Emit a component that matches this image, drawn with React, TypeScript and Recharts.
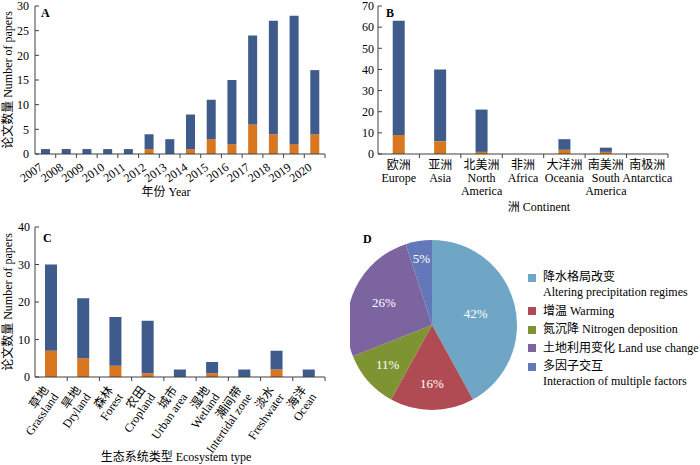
import React from 'react';
import { BarChart, Bar, XAxis, YAxis, PieChart, Pie, Cell } from 'recharts';

const FONT = '"Liberation Serif", "Noto Sans CJK SC", serif';
const BLUE = '#3e5b8c';
const ORANGE = '#d8771f';
const AXIS = '#404040';

// A: papers per year (orange part at the bottom, blue part stacked on top)
const years = ['2007', '2008', '2009', '2010', '2011', '2012', '2013', '2014', '2015', '2016', '2017', '2018', '2019', '2020'];
const yearOrange = [0, 0, 0, 0, 0, 1, 0, 1, 3, 2, 6, 4, 2, 4];
const yearBlue = [1, 1, 1, 1, 1, 3, 3, 7, 8, 13, 18, 23, 26, 13];
const yearTicks = [0, 5, 10, 15, 20, 25, 30];

// B: papers per continent
const continents = ['欧洲\nEurope', '亚洲\nAsia', '北美洲\nNorth\nAmerica', '非洲\nAfrica', '大洋洲\nOceania', '南美洲\nSouth\nAmerica', '南极洲\nAntarctica'];
const continentOrange = [9, 6, 1, 0, 2, 1, 0];
const continentBlue = [54, 34, 20, 0, 5, 2, 0];
const continentTicks = [0, 10, 20, 30, 40, 50, 60, 70];

// C: papers per ecosystem type
const ecosystems = ['草地\nGrassland', '旱地\nDryland', '森林\nForest', '农田\nCropland', '城市\nUrban area', '湿地\nWetland', '潮间带\nIntertidal zone', '淡水\nFreshwater', '海洋\nOcean'];
const ecoOrange = [7, 5, 3, 1, 0, 1, 0, 2, 0];
const ecoBlue = [23, 16, 13, 14, 2, 3, 2, 5, 2];
const ecoTicks = [0, 10, 20, 30, 40];

// D: share of driving factors (%)
const factors = ['降水格局改变\nAltering precipitation regimes', '增温 Warming', '氮沉降 Nitrogen deposition', '土地利用变化 Land use change', '多因子交互\nInteraction of multiple factors'];
const factorShare = [42, 16, 11, 26, 5];
const factorColors = ['#6fa6c6', '#b04b53', '#7e9432', '#7b64a0', '#6378b8'];

const dataA = years.map((name, i) => ({ name, orange: yearOrange[i], blue: yearBlue[i] }));
const dataB = continents.map((name, i) => ({ name, orange: continentOrange[i], blue: continentBlue[i] }));
const dataC = ecosystems.map((name, i) => ({ name, orange: ecoOrange[i], blue: ecoBlue[i] }));
const dataD = factors.map((name, i) => ({ name, value: factorShare[i] }));

const PLOT_W = 290;
const bandA = PLOT_W / years.length;
const bandB = PLOT_W / continents.length;
const bandC = PLOT_W / ecosystems.length;

const textStyle = { fontFamily: FONT, fill: '#000' };

const Boundary = ({ band }: { band: number }) => (
  <line x1={band / 2} x2={band / 2} y1={0} y2={4} stroke={AXIS} />
);

const YearTick = ({ x, y, payload }: any) => (
  <g transform={`translate(${x},${y})`}>
    <Boundary band={bandA} />
    <text transform="translate(-2,15) rotate(-35)" textAnchor="end" fontSize={12} style={textStyle}>
      {payload.value}
    </text>
  </g>
);

const ContinentTick = ({ x, y, payload }: any) => (
  <g transform={`translate(${x},${y})`}>
    <Boundary band={bandB} />
    <text textAnchor="middle" fontSize={12} style={textStyle}>
      {String(payload.value).split('\n').map((line, i) => (
        <tspan key={i} x={0} y={15 + i * 13}>{line}</tspan>
      ))}
    </text>
  </g>
);

const EcoTick = ({ x, y, payload }: any) => (
  <g transform={`translate(${x},${y})`}>
    <Boundary band={bandC} />
    <text transform="translate(-2,13) rotate(-55)" textAnchor="end" fontSize={12} style={textStyle}>
      {String(payload.value).split('\n').map((line, i) => (
        <tspan key={i} x={0} y={i * 12}>{line}</tspan>
      ))}
    </text>
  </g>
);

const YTitle = ({ viewBox }: any) => {
  const cy = viewBox.y + viewBox.height / 2;
  return (
    <text x={8} y={cy} transform={`rotate(-90, 8, ${cy})`} textAnchor="middle" dominantBaseline="central" fontSize={12} style={textStyle}>
      论文数量 Number of papers
    </text>
  );
};

const XTitle = ({ viewBox, text, dx }: any) => (
  <text x={viewBox.x + viewBox.width / 2 + dx} y={viewBox.y + viewBox.height - 4} textAnchor="middle" fontSize={12} style={textStyle}>
    {text}
  </text>
);

// label distance from pie centre, per slice (like Excel's best fit)
const LABEL_R = [45, 58, 59, 53, 67];
const RAD = Math.PI / 180;

const renderPieLabel = ({ cx, cy, midAngle, index, value }: any) => {
  const r = LABEL_R[index];
  const x = cx + r * Math.cos(-midAngle * RAD);
  const y = cy + r * Math.sin(-midAngle * RAD);
  return (
    <text x={x} y={y} textAnchor="middle" dominantBaseline="central" fontSize={13} fontFamily={FONT} fill="#fff">
      {value}%
    </text>
  );
};

const yAxisProps = {
  tickSize: -4,
  stroke: AXIS,
  interval: 0 as const,
  tick: { fill: '#000', fontSize: 12, fontFamily: FONT },
};

const xAxisProps = {
  dataKey: 'name',
  interval: 0 as const,
  tickLine: false,
  tickSize: 0,
  tickMargin: 0,
  stroke: AXIS,
};

export default function App() {
  return (
    <div style={{ position: 'absolute', left: 0, top: 0, width: 700, height: 465, background: '#fff', overflow: 'hidden' }}>
      <div style={{ position: 'absolute', left: 0, top: 0 }}>
        <BarChart width={350} height={200} data={dataA} margin={{ top: 6, right: 25, bottom: 0, left: 0 }} barCategoryGap="29%">
          <XAxis {...xAxisProps} height={46} tick={YearTick} label={<XTitle text="年份 Year" dx={-14} />} />
          <YAxis {...yAxisProps} width={35} tickMargin={10} domain={[0, 30]} ticks={yearTicks} label={<YTitle />} />
          <Bar dataKey="orange" stackId="s" fill={ORANGE} isAnimationActive={false} />
          <Bar dataKey="blue" stackId="s" fill={BLUE} isAnimationActive={false} />
        </BarChart>
      </div>

      <div style={{ position: 'absolute', left: 350, top: 0 }}>
        <BarChart width={350} height={215} data={dataB} margin={{ top: 6, right: 32, bottom: 0, left: 0 }} barCategoryGap="35.5%">
          <XAxis {...xAxisProps} height={61} tick={ContinentTick} label={<XTitle text="洲 Continent" dx={16} />} />
          <YAxis {...yAxisProps} width={28} tickMargin={8} domain={[0, 70]} ticks={continentTicks} />
          <Bar dataKey="orange" stackId="s" fill={ORANGE} isAnimationActive={false} />
          <Bar dataKey="blue" stackId="s" fill={BLUE} isAnimationActive={false} />
        </BarChart>
      </div>

      <div style={{ position: 'absolute', left: 0, top: 220 }}>
        <BarChart width={350} height={245} data={dataC} margin={{ top: 7, right: 25, bottom: 0, left: 0 }} barCategoryGap="31%">
          <XAxis {...xAxisProps} height={88} tick={EcoTick} label={<XTitle text="生态系统类型 Ecosystem type" dx={-4} />} />
          <YAxis {...yAxisProps} width={35} tickMargin={9} domain={[0, 40]} ticks={ecoTicks} label={<YTitle />} />
          <Bar dataKey="orange" stackId="s" fill={ORANGE} isAnimationActive={false} />
          <Bar dataKey="blue" stackId="s" fill={BLUE} isAnimationActive={false} />
        </BarChart>
      </div>

      <div style={{ position: 'absolute', left: 350, top: 220 }}>
        <PieChart width={350} height={245} margin={{ top: 0, right: 0, bottom: 0, left: 0 }}>
          <Pie
            data={dataD}
            dataKey="value"
            cx={82}
            cy={105}
            outerRadius={85}
            startAngle={90}
            endAngle={-270}
            stroke="none"
            label={renderPieLabel}
            labelLine={false}
            isAnimationActive={false}
          >
            {dataD.map((d, i) => (
              <Cell key={d.name} fill={factorColors[i]} />
            ))}
          </Pie>
        </PieChart>
      </div>

      <div style={{ position: 'absolute', left: 528, top: 270, fontFamily: FONT, fontSize: 12, lineHeight: '15px', color: '#000', whiteSpace: 'nowrap' }}>
        {factors.map((f, i) => (
          <div key={f} style={{ position: 'relative', paddingLeft: 15, marginBottom: 3.5 }}>
            <span style={{ position: 'absolute', left: 0, top: 3.5, width: 8, height: 8, background: factorColors[i] }} />
            {f.split('\n').map((line) => (
              <div key={line}>{line}</div>
            ))}
          </div>
        ))}
      </div>

      <svg width={700} height={465} style={{ position: 'absolute', left: 0, top: 0, pointerEvents: 'none' }}>
        <g fontFamily={FONT} fontWeight="bold" fontSize={12} fill="#000">
          <text x={41} y={17}>A</text>
          <text x={386} y={17}>B</text>
          <text x={43} y={242}>C</text>
          <text x={363} y={243}>D</text>
        </g>
      </svg>
    </div>
  );
}
